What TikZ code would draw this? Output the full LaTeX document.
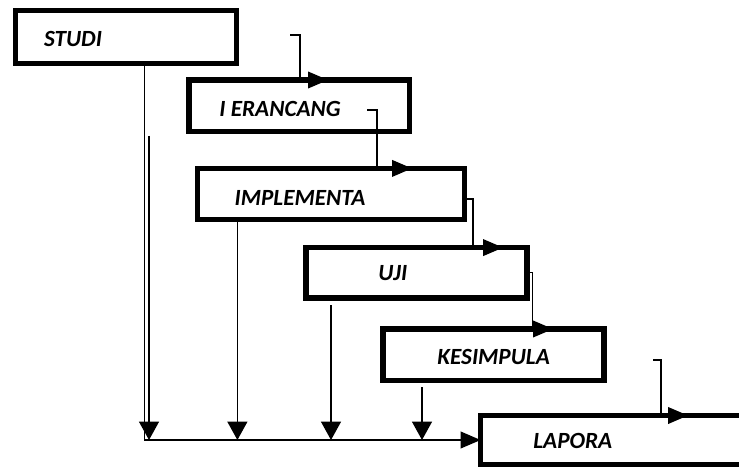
\documentclass[tikz,border=0pt]{standalone}
\usepackage{fontspec}
\setmainfont{Carlito}
\usetikzlibrary{shapes,arrows.meta,positioning}

\begin{document}
\begin{tikzpicture}[
    stepbox/.style={draw=black, rectangle, line width=4pt, minimum width=5.52cm, minimum height=1.28cm, inner sep=0pt, outer sep=0pt},
    steptext/.style={font=\fontsize{16.5}{20}\selectfont\bfseries\itshape, inner sep=0pt},
    flow/.style={black, line width=0.9pt, -{Triangle[length=0.5cm, width=0.42cm]}},
    drop/.style={black, line width=0.9pt, -{Triangle[length=0.46cm, width=0.5cm]}}
  ]
       \useasboundingbox (0,0) rectangle (18.475,-11.7);

       %Defining nodes
       \node[stepbox, minimum height=1.325cm] (studi) at (3.15,-0.925) {};
       \node[stepbox, minimum height=1.29cm] (perancang) at (7.48,-2.645) {};
       \node[stepbox, minimum width=6.675cm] (implementa) at (8.275,-4.85) {};
       \node[stepbox, minimum height=1.26cm] (uji) at (10.41,-6.82) {};
       \node[stepbox, minimum height=1.29cm] (kesimpula) at (12.34,-8.87) {};
       \node[stepbox, minimum width=6.61cm, minimum height=1.225cm] (lapora) at (15.32,-11.0) {};

       %texts inside the boxes
       \node[steptext] (studitxt) at ([xshift=-1.325cm, yshift=-0.05cm]studi.center) {STUDI};
       \node[steptext] (perancangtxt) at ([xshift=-0.48cm, yshift=-0.08cm]perancang.center) {I ERANCANG};
       \node[steptext] (implementatxt) at ([xshift=-0.775cm, yshift=-0.09cm]implementa.center) {IMPLEMENTA};
       \node[steptext] (ujitxt) at ([xshift=-0.59cm]uji.center) {UJI};
       \node[steptext] (kesimpulatxt) at ([yshift=-0.055cm]kesimpula.center) {KESIMPULA};
       \node[steptext] (laporatxt) at ([xshift=-1.0cm, yshift=-0.025cm]lapora.center) {LAPORA};

       %loose ends of the lines
       \coordinate (c1) at (7.25,-0.875);
       \coordinate (c2) at (9.175,-2.75);
       \coordinate (c5) at (16.325,-9.0);
       \coordinate (s0) at ([xshift=0.46cm]studi.south);
       \coordinate (b0) at (3.725,-3.4);
       \coordinate (d2) at ([xshift=-2.34cm]implementa.south);
       \coordinate (d3) at ([xshift=-2.135cm, yshift=-0.175cm]uji.south);
       \coordinate (d4) at ([xshift=-1.79cm, yshift=-0.16cm]kesimpula.south);

       %Drawing Diagram
       \draw[flow] (c1) -- ++(0.25,0) |- ([xshift=0.72cm]perancang.north);
       \draw[flow] (c2) -- ++(0.25,0) |- ([xshift=2.025cm]implementa.north);
       \draw[flow] ([yshift=-0.125cm]implementa.east) -- ++(0.21,0) |- ([xshift=2.165cm]uji.north);
       \draw[flow] (uji.east) -- ++(0.14,0) |- ([xshift=1.485cm]kesimpula.north);
       \draw[flow] (c5) -- ++(0.2,0) |- ([xshift=1.88cm]lapora.north);

       \draw[flow] (s0) |- (lapora.west);
       \draw[drop] (b0) -- (b0 |- lapora.west);
       \draw[drop] (d2) -- (d2 |- lapora.west);
       \draw[drop] (d3) -- (d3 |- lapora.west);
       \draw[drop] (d4) -- (d4 |- lapora.west);
\end{tikzpicture}
\end{document}
